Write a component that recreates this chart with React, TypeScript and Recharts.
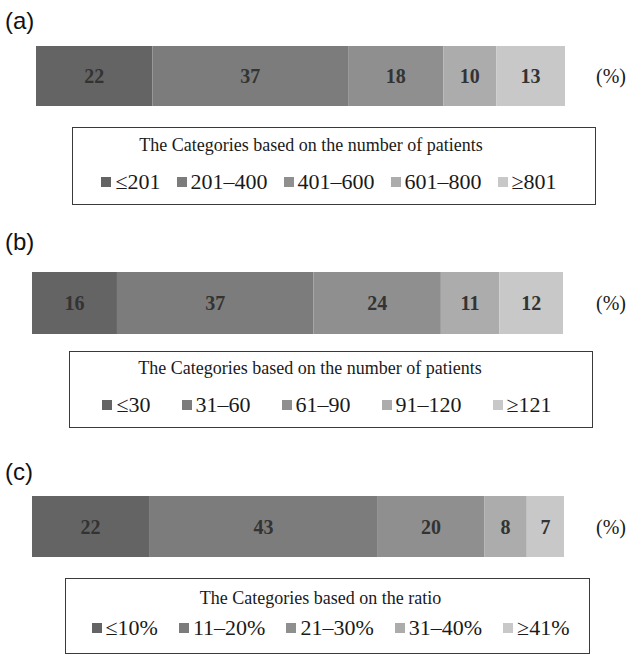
import { BarChart, Bar, XAxis, YAxis, LabelList } from "recharts";

// grey shades of the five segments, darkest first
const SHADES = ["#646464", "#7c7c7c", "#8f8f8f", "#acacac", "#c8c8c8"];
const UNIT = "(%)";

const titleA = "The Categories based on the number of patients";
const categoriesA = ["≤201", "201–400", "401–600", "601–800", "≥801"];
const valuesA = [22, 37, 18, 10, 13];

const titleB = "The Categories based on the number of patients";
const categoriesB = ["≤30", "31–60", "61–90", "91–120", "≥121"];
const valuesB = [16, 37, 24, 11, 12];

const titleC = "The Categories based on the ratio";
const categoriesC = ["≤10%", "11–20%", "21–30%", "31–40%", "≥41%"];
const valuesC = [22, 43, 20, 8, 7];

const W = 629;
const H = 655;
const SERIF = "'Liberation Serif', 'Times New Roman', serif";
const SANS = "'Liberation Sans', Arial, sans-serif";

interface Layout {
  tagTop: number;
  barTop: number;
  barHeight: number;
  barLeft: number;
  barRight: number;
  boxLeft: number;
  boxRight: number;
  boxTop: number;
  boxHeight: number;
  titleTop: number;
  titleShift: number;
  itemsTop: number;
  itemsShift: number;
  itemGap: number;
}

interface PanelProps {
  tag: string;
  title: string;
  categories: string[];
  values: number[];
  layout: Layout;
}

function Panel({ tag, title, categories, values, layout: l }: PanelProps) {
  const row: Record<string, string | number> = { name: UNIT };
  values.forEach((v, i) => {
    row[`s${i}`] = v;
  });

  return (
    <>
      <div
        style={{
          position: "absolute",
          left: 5,
          top: l.tagTop,
          fontFamily: SANS,
          fontSize: 24,
          lineHeight: 1,
          color: "#111",
        }}
      >
        {tag}
      </div>

      <div style={{ position: "absolute", left: 0, top: l.barTop }}>
        <BarChart
          width={W}
          height={l.barHeight}
          data={[row]}
          layout="vertical"
          margin={{ top: 0, bottom: 0, left: l.barLeft, right: 0 }}
          barCategoryGap={0}
        >
          <XAxis type="number" domain={[0, 100]} hide />
          <YAxis
            type="category"
            dataKey="name"
            orientation="right"
            width={W - l.barRight}
            axisLine={false}
            tickLine={false}
            tickSize={0}
            tickMargin={596 - l.barRight}
            tick={{ fill: "#1a1a1a", fontSize: 20, fontFamily: SERIF }}
          />
          {values.map((_, i) => (
            <Bar
              key={i}
              dataKey={`s${i}`}
              stackId="a"
              fill={SHADES[i]}
              isAnimationActive={false}
            >
              <LabelList
                dataKey={`s${i}`}
                position="center"
                fill="#333"
                fontSize={20}
                fontWeight="bold"
                fontFamily={SERIF}
              />
            </Bar>
          ))}
        </BarChart>
      </div>

      <div
        style={{
          position: "absolute",
          left: l.boxLeft,
          top: l.boxTop,
          width: l.boxRight - l.boxLeft,
          height: l.boxHeight,
          boxSizing: "border-box",
          border: "1.5px solid #3a3a3a",
          fontFamily: SERIF,
          color: "#1a1a1a",
        }}
      >
        <div
          style={{
            position: "absolute",
            left: 0,
            right: 0,
            top: l.titleTop,
            textAlign: "center",
            fontSize: 18,
            lineHeight: 1,
            transform: `translateX(${l.titleShift}px)`,
            whiteSpace: "nowrap",
          }}
        >
          {title}
        </div>
        <div
          style={{
            position: "absolute",
            left: 0,
            right: 0,
            top: l.itemsTop,
            display: "flex",
            justifyContent: "center",
            alignItems: "baseline",
            gap: l.itemGap,
            fontSize: 22,
            lineHeight: 1,
            transform: `translateX(${l.itemsShift}px)`,
            whiteSpace: "nowrap",
          }}
        >
          {categories.map((c, i) => (
            <span key={c}>
              <span
                style={{
                  display: "inline-block",
                  width: 10,
                  height: 10,
                  marginRight: 4,
                  marginBottom: 2,
                  background: SHADES[i],
                }}
              />
              {c}
            </span>
          ))}
        </div>
      </div>
    </>
  );
}

const layoutA: Layout = {
  tagTop: 9,
  barTop: 46,
  barHeight: 60,
  barLeft: 36,
  barRight: 565,
  boxLeft: 72,
  boxRight: 596,
  boxTop: 127,
  boxHeight: 78,
  titleTop: 8,
  titleShift: -23,
  itemsTop: 43,
  itemsShift: -5,
  itemGap: 16,
};

const layoutB: Layout = {
  tagTop: 230,
  barTop: 272,
  barHeight: 62,
  barLeft: 32,
  barRight: 563,
  boxLeft: 69,
  boxRight: 593,
  boxTop: 351,
  boxHeight: 77,
  titleTop: 7,
  titleShift: -21,
  itemsTop: 42,
  itemsShift: -4,
  itemGap: 31,
};

const layoutC: Layout = {
  tagTop: 460,
  barTop: 496,
  barHeight: 61,
  barLeft: 32,
  barRight: 564,
  boxLeft: 65,
  boxRight: 590,
  boxTop: 578,
  boxHeight: 76,
  titleTop: 10,
  titleShift: -7,
  itemsTop: 38,
  itemsShift: 3,
  itemGap: 21,
};

export default function App() {
  return (
    <div
      style={{
        position: "absolute",
        left: 0,
        top: 0,
        width: W,
        height: H,
        background: "#fff",
        overflow: "hidden",
      }}
    >
      <Panel tag="(a)" title={titleA} categories={categoriesA} values={valuesA} layout={layoutA} />
      <Panel tag="(b)" title={titleB} categories={categoriesB} values={valuesB} layout={layoutB} />
      <Panel tag="(c)" title={titleC} categories={categoriesC} values={valuesC} layout={layoutC} />
    </div>
  );
}
